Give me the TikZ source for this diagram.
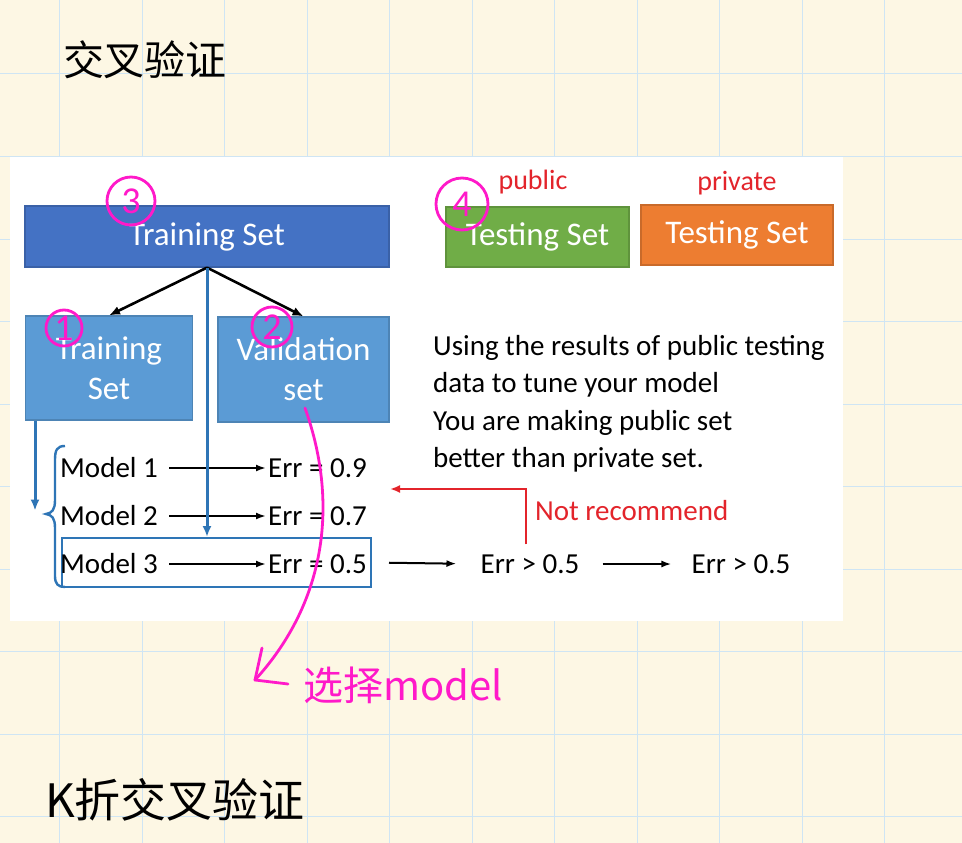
\documentclass[tikz,border=0pt]{standalone}
\usepackage{fontspec}
\setmainfont{Carlito}
\newfontfamily\cjk{Noto Sans CJK SC}
\usetikzlibrary{arrows.meta}

\definecolor{paper}{HTML}{FDF7E4}
\definecolor{gridline}{HTML}{CFE5F4}
\definecolor{setdark}{HTML}{4472C4}
\definecolor{setlight}{HTML}{5B9BD5}
\definecolor{setgreen}{HTML}{70AD47}
\definecolor{setorange}{HTML}{ED7D31}
\definecolor{flow}{HTML}{2E75B6}
\definecolor{warn}{HTML}{E3242B}
\definecolor{ink}{HTML}{FF19C9}

\tikzset{
  setbox/.style={draw=#1!85!black, line width=1.2pt, fill=#1, text=white, align=center,
    inner sep=0pt, font=\fontsize{33}{40}\selectfont},
  txt/.style={font=\fontsize{29}{34}\selectfont, inner sep=2pt},
  arr/.style={-{Latex[length=11pt,width=9pt]}, line width=2.6pt},
  rowarr/.style={-{Latex[length=10pt,width=7pt]}, line width=2pt},
  flowarr/.style={flow, line width=3pt, -{Latex[length=11pt,width=9pt]}},
  circnum/.style={circle, draw=ink, line width=2.8pt, text=ink, inner sep=0pt,
    font=\fontsize{38}{38}\selectfont},
  hand/.style={inner sep=0pt, font=\cjk\fontsize{#1}{#1}\selectfont}
}

\begin{document}
\begin{tikzpicture}[x=1pt, y=-1pt]
  \useasboundingbox (0,0) rectangle (962,843);
  % note paper
  \fill[paper] (0,0) rectangle (962,843);
  \foreach \i in {0,...,10}
    \draw[gridline, line width=1pt] (59.5+82.5*\i,0) -- ++(0,843);
  \foreach \j in {0,...,9}
    \draw[gridline, line width=1pt] (0,74+82.5*\j) -- ++(962,0);
  \node[hand=41] (title) at (145,60) {交叉验证};
  \node[hand=46] (kfold) at (175,800) {K折交叉验证};

  % the slide
  \fill[white] (10,157) rectangle (843,621);
  \node[setbox=setdark, minimum width=364pt, minimum height=61pt] (tset) at (207,236.5) {Training Set};
  \node[setbox=setlight, minimum width=167pt, minimum height=104pt] (ttrain) at (109,368) {Training\\Set};
  \node[setbox=setlight, minimum width=171pt, minimum height=105pt] (tval) at (303.5,369.5) {Validation\\set};
  \node[setbox=setgreen, minimum width=183pt, minimum height=60pt] (pub) at (537.5,237) {Testing Set};
  \node[setbox=setorange, minimum width=192pt, minimum height=60pt] (priv) at (737,235) {Testing Set};
  \node[txt, text=warn, font=\fontsize{28}{30}\selectfont] (publbl) at (533,182) {public};
  \node[txt, text=warn, font=\fontsize{28}{30}\selectfont] (privlbl) at (737,183) {private};

  \draw[arr] (tset.south) -- (ttrain.north);
  \draw[arr] (tset.south) -- (tval.north);

  \node[draw=flow, line width=2pt, minimum width=309pt, minimum height=49pt] (sel) at (216.5,562.5) {};
  \node[txt, anchor=west] (m1) at (58,468) {Model 1};
  \node[txt, anchor=west] (m2) at (58,516) {Model 2};
  \node[txt, anchor=west] (m3) at (58,564) {Model 3};
  \node[txt, anchor=west] (e1) at (266,468) {Err = 0.9};
  \node[txt, anchor=west] (e2) at (266,516) {Err = 0.7};
  \node[txt, anchor=west] (e3) at (266,564) {Err = 0.5};
  \foreach \r in {1,2,3}
    \draw[rowarr, shorten <=9pt] (m\r.east) -- (e\r.west);

  \draw[flowarr] (tset.south) -- (tset.south |- sel.north);
  \draw[flowarr] ([xshift=-74pt]ttrain.south) -- ++(0,90);
  % brace round the models
  \draw[flow, line width=2.4pt] (65,446) .. controls (57,446) and (55,450) .. (55,460)
    -- (55,500) .. controls (55,510) and (52,513) .. (46,514)
    .. controls (52,515) and (55,518) .. (55,528)
    -- (55,576) .. controls (55,584) and (58,587) .. (65,587);

  \node[txt] (g1) at (530,564) {Err > 0.5};
  \node[txt] (g2) at (741,564) {Err > 0.5};
  \draw[rowarr, shorten <=17pt, shorten >=22pt] (sel.east) -- (g1.west);
  \draw[rowarr, shorten <=21pt, shorten >=18pt] (g1.east) -- (g2.west);

  \coordinate (back) at (390,489);
  \draw[warn, line width=2.2pt, -{Latex[length=10pt,width=8pt]}] ([xshift=-4pt,yshift=8pt]g1.north) |- (back);
  \node[txt, text=warn, anchor=west] (nrec) at (533,511) {Not recommend};

  \node[anchor=north west, align=left, inner sep=0pt, font=\fontsize{29}{37.5}\selectfont] (note) at (433,335)
    {Using the results of public testing\\data to tune your model\\You are making public set\\better than private set.};

  % pink notes
  \node[circnum, minimum size=48pt] (c3) at (131,201) {3};
  \node[circnum, minimum size=36pt] (c1) at (64,328) {1};
  \node[circnum, minimum size=40pt] (c2) at (272,327) {2};
  \node[circnum, minimum size=52pt] (c4) at (462,204) {4};
  \coordinate (pk) at (305,408);
  \coordinate (tip) at (255,680);
  \draw[ink, line width=2.8pt, line cap=round, line join=round]
    (pk) .. controls (338,500) and (328,600) .. (tip);
  \draw[ink, line width=2.8pt, line cap=round, line join=round]
    (262,648) -- (tip) -- (288,684);
  \node[hand=40, text=ink] (pick) at (403,685) {选择model};
\end{tikzpicture}
\end{document}
